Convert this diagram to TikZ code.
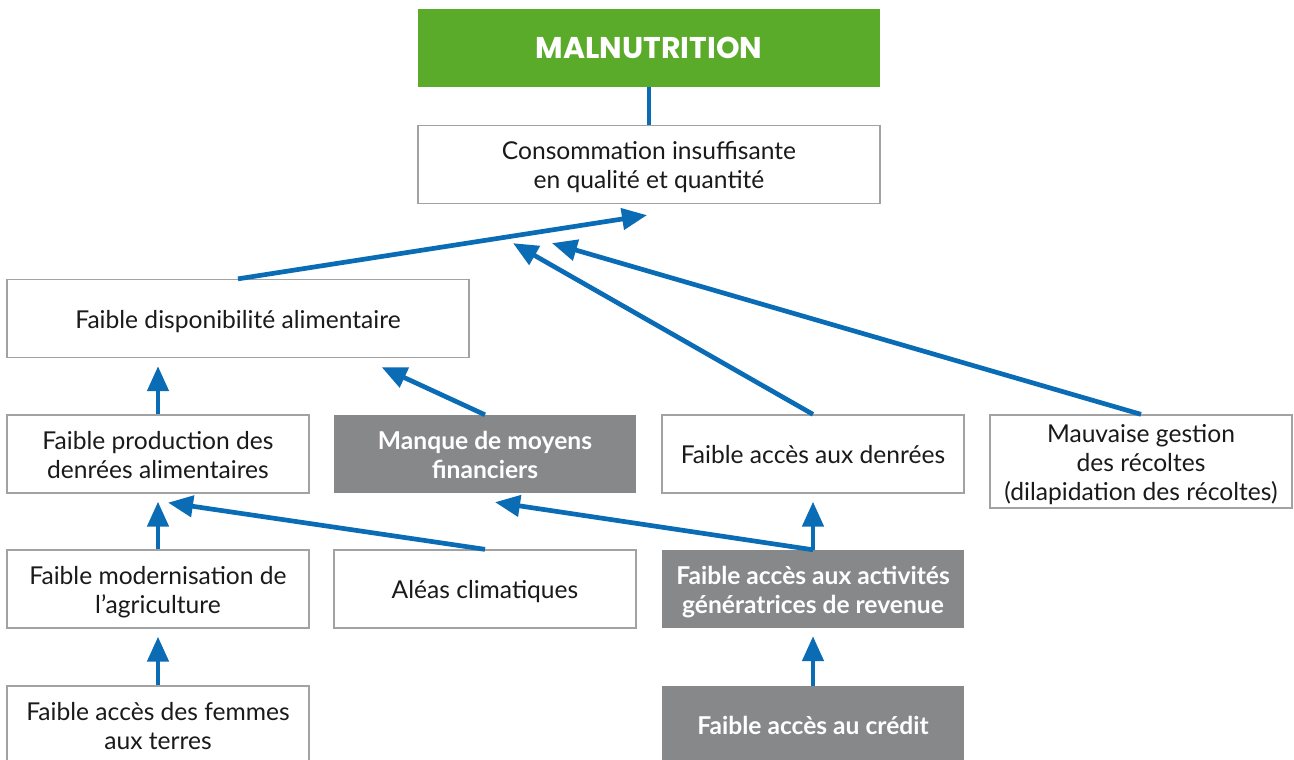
\documentclass[tikz,border=0pt]{standalone}
\usepackage{fontspec}
\setmainfont{Lato}
\newfontfamily\titlefont{Poppins}
\usetikzlibrary{arrows.meta,calc}
\definecolor{leafgreen}{HTML}{5AAB29}
\definecolor{linkblue}{HTML}{0B6CB6}
\definecolor{boxgray}{HTML}{87888A}
\definecolor{edgegray}{HTML}{A2A2A2}
\definecolor{inkblack}{HTML}{1A1A1A}
% fixed first-line height and last-line depth keep the baselines evenly placed
\newcommand\boxheadstrut{\rule{0pt}{26pt}}
\newcommand\boxtailstrut{\rule[-7pt]{0pt}{7pt}}
\begin{document}
\begin{tikzpicture}[x=1pt,y=-1pt,
  every node/.style={inner sep=0pt,align=center,font=\fontsize{24.6}{29}\selectfont},
  plainbox/.style={draw=edgegray,line width=1.3pt,fill=white,text=inkblack},
  darkbox/.style={fill=boxgray,text=white,font=\fontsize{24.6}{29}\selectfont\bfseries},
  wide/.style={minimum width=462pt,minimum height=78pt},
  narrow/.style={minimum width=302pt,minimum height=78pt},
  link/.style={draw=linkblue,line width=4.7pt},
  arrowlink/.style={link,-{Triangle[length=25pt,width=21pt]}}]
\clip (0,0) rectangle (1294,760);
\fill[white] (0,0) rectangle (1294,760);

% top node and its direct cause
\node[fill=leafgreen,text=white,wide,font=\titlefont\fontsize{30}{34}\selectfont\bfseries] (title) at (649,48) {MALNUTRITION};
\node[plainbox,wide] (cons) at (649,164.5) {\boxheadstrut Consommation insuffisante\\en qualité et quantité\boxtailstrut};

% second and third tiers
\node[plainbox,wide] (dispo) at (238,318.5) {\boxheadstrut Faible disponibilité alimentaire\boxtailstrut};
\node[plainbox,narrow] (prod) at (158,454) {\boxheadstrut Faible production des\\denrées alimentaires\boxtailstrut};
\node[darkbox,narrow] (manque) at (485,454) {\boxheadstrut Manque de moyens\\financiers\boxtailstrut};
\node[plainbox,narrow] (denrees) at (813,454) {\boxheadstrut Faible accès aux denrées\boxtailstrut};
\node[plainbox,narrow,minimum height=93pt] (gestion) at (1141,461.5) {\boxheadstrut Mauvaise gestion\\des récoltes\\(dilapidation des récoltes)\boxtailstrut};

% root causes
\node[plainbox,narrow] (modern) at (158,589) {\boxheadstrut Faible modernisation de\\l’agriculture\boxtailstrut};
\node[plainbox,narrow] (aleas) at (485,589) {\boxheadstrut Aléas climatiques\boxtailstrut};
\node[darkbox,narrow] (activ) at (813,589) {\boxheadstrut Faible accès aux activités\\génératrices de revenue\boxtailstrut};
\node[plainbox,narrow] (femmes) at (158,725) {\boxheadstrut Faible accès des femmes\\aux terres\boxtailstrut};
\node[darkbox,narrow] (credit) at (813,725) {\boxheadstrut Faible accès au crédit\boxtailstrut};

% connectors
\draw[link] (title.south) -- (cons.north);
\draw[arrowlink] (dispo.north) -- ($(cons.south)+(-2,11)$);
\draw[arrowlink] (denrees.north) -- ($(cons.south)+(-136,39)$);
\draw[arrowlink] (gestion.north) -- ($(cons.south)+(-97,39)$);
\draw[arrowlink,shorten >=8pt] (prod.north) -- (prod.north |- dispo.south);
\draw[arrowlink] (manque.north) -- ($(dispo.south east)+(-88,9)$);
\draw[arrowlink,shorten >=8pt] (modern.north) -- (prod.south);
\draw[arrowlink] (aleas.north) -- ($(prod.south)+(10,9)$);
\draw[arrowlink,shorten >=8pt] (activ.north) -- (denrees.south);
\draw[arrowlink] (activ.north) -- ($(manque.south)+(10,9)$);
\draw[arrowlink,shorten >=8pt] (femmes.north) -- (modern.south);
\draw[arrowlink,shorten >=8pt] (credit.north) -- (activ.south);
\end{tikzpicture}
\end{document}
